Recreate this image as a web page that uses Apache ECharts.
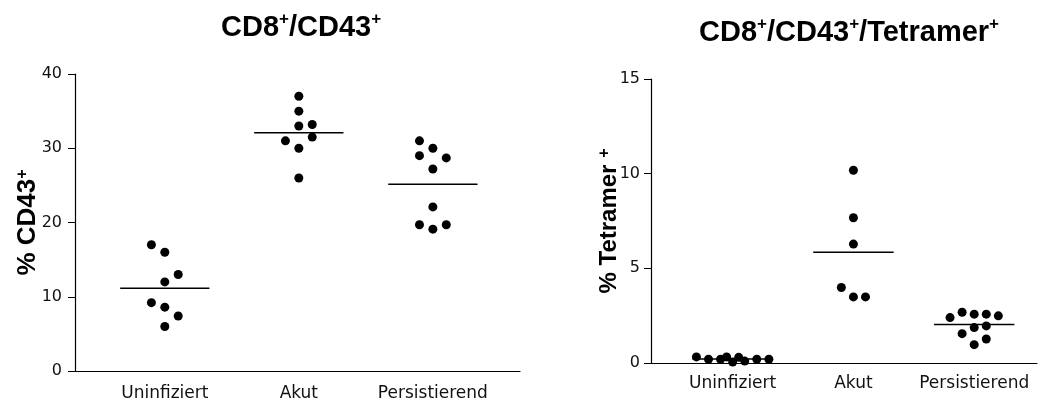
<!DOCTYPE html>
<html>
<head>
<meta charset="utf-8">
<script src="https://cdn.jsdelivr.net/npm/echarts@6/dist/echarts.min.js"></script>
<style>
  html, body { margin: 0; width: 100%; height: 100%; background: #fff; }
  #chart { width: 1041px; height: 402px; }
</style>
</head>
<body>
<div id="chart"></div>
<script>
var categories = ['Uninfiziert', 'Akut', 'Persistierend'];

// CD8+/CD43+ (% CD43+), one array per group
var cd43Uninfiziert = [17.0, 16.0, 13.0, 12.0, 9.2, 8.6, 7.4, 6.0];
var cd43Akut = [37.0, 35.0, 33.0, 33.2, 31.5, 31.0, 30.0, 26.0];
var cd43Persistierend = [31.0, 30.0, 29.0, 28.7, 27.2, 22.1, 19.7, 19.7, 19.1];
// swarm column of each dot (-1 left, 0 centre, 1 right)
var cd43ColUninfiziert = [-1, 0, 1, 0, -1, 0, 1, 0];
var cd43ColAkut = [0, 0, 0, 1, 1, -1, 0, 0];
var cd43ColPersistierend = [-1, 0, -1, 1, 0, 0, -1, 1, 0];

// CD8+/CD43+/Tetramer+ (% Tetramer+)
var tetUninfiziert = [0.32, 0.2, 0.2, 0.32, 0.05, 0.3, 0.1, 0.2, 0.2];
var tetAkut = [10.18, 7.67, 6.28, 3.99, 3.49, 3.49];
var tetPersistierend = [2.4, 2.68, 2.58, 2.58, 2.49, 1.55, 1.87, 1.96, 1.27, 0.97];
var tetColUninfiziert = [-3, -2, -1, -0.5, 0, 0.5, 1, 2, 3];
var tetColAkut = [0, 0, 0, -1, 0, 1];
var tetColPersistierend = [-2, -1, 0, 1, 2, -1, 0, 1, 1, 0];

var colStep = 0.1;      // swarm column width in category units
var meanHalf = 0.333;   // half length of the mean bar

function points(vals, cols, idx) {
  return vals.map(function (v, i) { return [idx + cols[i] * colStep, v]; });
}
function mean(vals) {
  return vals.reduce(function (a, b) { return a + b; }, 0) / vals.length;
}

var groups = [
  { grid: 0, sets: [[cd43Uninfiziert, cd43ColUninfiziert], [cd43Akut, cd43ColAkut], [cd43Persistierend, cd43ColPersistierend]] },
  { grid: 1, sets: [[tetUninfiziert, tetColUninfiziert], [tetAkut, tetColAkut], [tetPersistierend, tetColPersistierend]] }
];

var series = [];
groups.forEach(function (g) {
  g.sets.forEach(function (s, idx) {
    series.push({
      type: 'scatter',
      xAxisIndex: g.grid,
      yAxisIndex: g.grid,
      symbolSize: 9,
      itemStyle: { color: '#000', opacity: 1 },
      data: points(s[0], s[1], idx),
      z: 3
    });
    var m = mean(s[0]);
    series.push({
      type: 'line',
      xAxisIndex: g.grid,
      yAxisIndex: g.grid,
      symbol: 'none',
      lineStyle: { color: '#000', width: 1.5 },
      data: [[idx - meanHalf, m], [idx + meanHalf, m]],
      z: 2
    });
  });
});

var tickFont = { fontFamily: 'DejaVu Sans', fontSize: 16, color: '#111' };
var supRich = { sup: { fontSize: 17, lineHeight: 20, verticalAlign: 'top', fontWeight: 'bold', fontFamily: 'Liberation Sans' } };

function xAxisCfg(gridIndex, min, max, margin) {
  return {
    type: 'value', gridIndex: gridIndex, min: min, max: max,
    axisLine: { show: true, onZero: false, lineStyle: { color: '#000', width: 1.2 } },
    axisTick: { show: false },
    splitLine: { show: false },
    axisLabel: {
      customValues: [0, 1, 2],
      formatter: function (v) { return categories[Math.round(v)]; },
      fontFamily: 'DejaVu Sans', fontSize: 17, color: '#111', margin: margin
    }
  };
}
function yAxisCfg(gridIndex, max, interval, name, nameSize, nameGap, margin) {
  return {
    type: 'value', gridIndex: gridIndex, min: 0, max: max, interval: interval,
    name: name, nameLocation: 'middle', nameRotate: 90, nameGap: nameGap,
    nameMoveOverlap: false,
    nameTextStyle: {
      fontFamily: 'Liberation Sans', fontWeight: 'bold', fontSize: nameSize, color: '#000',
      rich: { sup: { fontSize: 16, lineHeight: 18, verticalAlign: 'top', fontWeight: 'bold', fontFamily: 'Liberation Sans' } }
    },
    axisLine: { show: true, onZero: false, lineStyle: { color: '#000', width: 1.2 } },
    axisTick: { show: true, length: 7, lineStyle: { color: '#000' } },
    splitLine: { show: false },
    axisLabel: Object.assign({ margin: margin }, tickFont)
  };
}

var option = {
  animation: false,
  backgroundColor: '#fff',
  title: [
    {
      text: 'CD8{sup|+}/CD43{sup|+}',
      left: 216, top: 6,
      textStyle: { fontFamily: 'Liberation Sans', fontWeight: 'bold', fontSize: 29, lineHeight: 34, color: '#000', rich: supRich }
    },
    {
      text: 'CD8{sup|+}/CD43{sup|+}/Tetramer{sup|+}',
      left: 694, top: 11,
      textStyle: { fontFamily: 'Liberation Sans', fontWeight: 'bold', fontSize: 29, lineHeight: 34, color: '#000', rich: supRich }
    }
  ],
  grid: [
    { left: 75, right: 521, top: 74, bottom: 29 },
    { left: 651, right: 4, top: 79, bottom: 39 }
  ],
  xAxis: [
    xAxisCfg(0, -0.67, 2.65, 14),
    xAxisCfg(1, -0.676, 2.52, 12)
  ],
  yAxis: [
    yAxisCfg(0, 40, 10, '% CD43{sup|+}', 26, 34, 13),
    yAxisCfg(1, 15, 5, '% Tetramer {sup|+}', 24, 30, 11)
  ],
  series: series
};

var chart = echarts.init(document.getElementById('chart'));
chart.setOption(option);
</script>
</body>
</html>
